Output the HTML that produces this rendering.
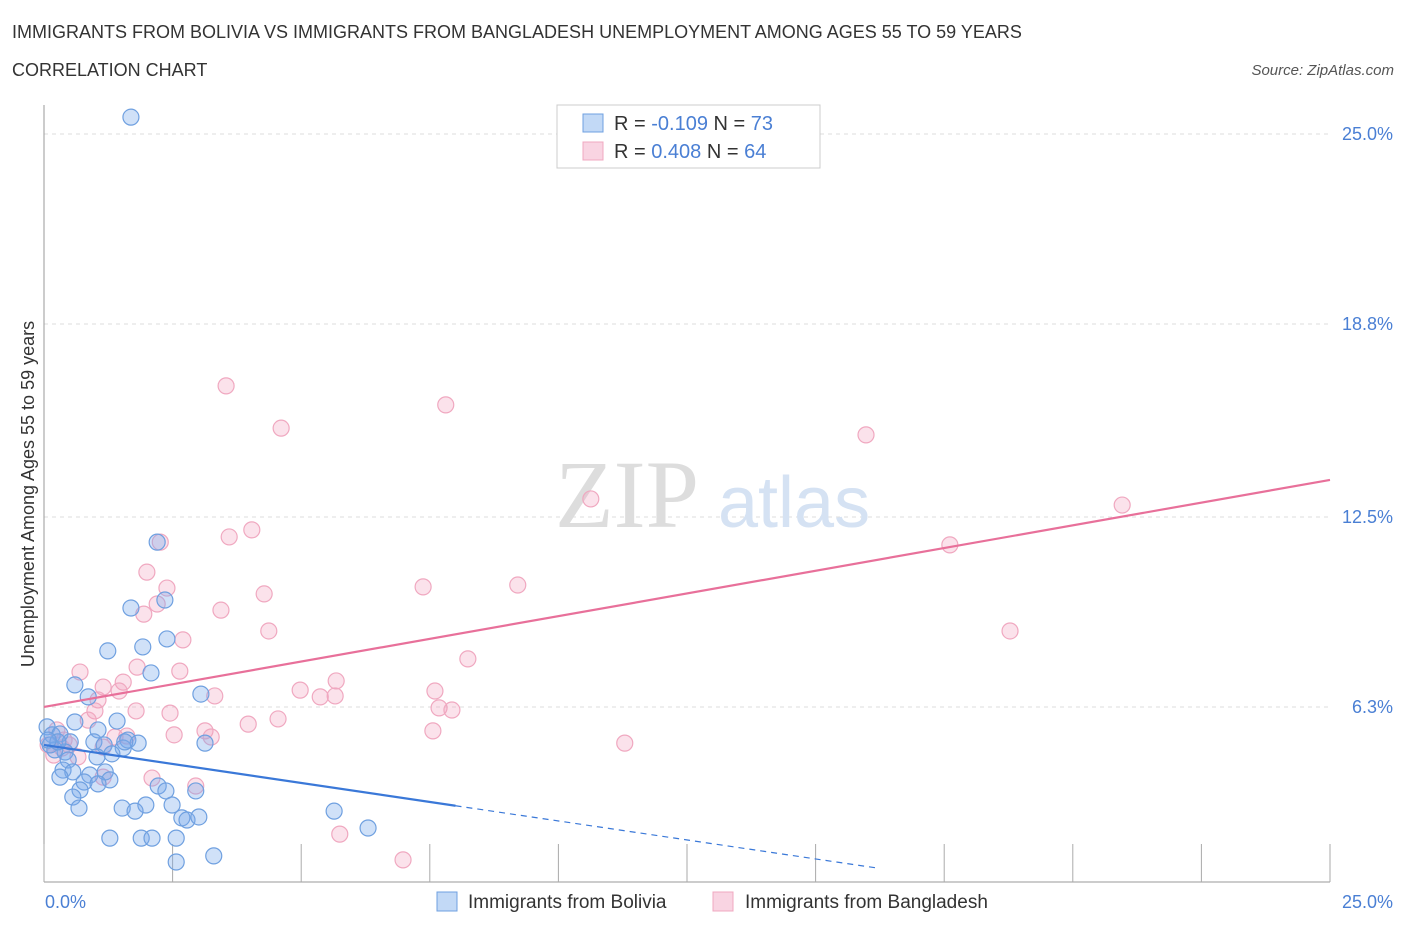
<!DOCTYPE html>
<html><head><meta charset="utf-8"><style>
body{margin:0;background:#fff;font-family:"Liberation Sans",sans-serif;}
#wrap{position:relative;width:1406px;height:930px;overflow:hidden;}
.t{position:absolute;white-space:nowrap;}
</style></head><body>
<div id="wrap">
<div class="t" style="left:12px;top:22px;font-size:18px;color:#333;">IMMIGRANTS FROM BOLIVIA VS IMMIGRANTS FROM BANGLADESH UNEMPLOYMENT AMONG AGES 55 TO 59 YEARS</div>
<div class="t" style="left:12px;top:60px;font-size:18px;color:#333;">CORRELATION CHART</div>
<div class="t" style="right:12px;top:62px;font-size:15px;color:#555;font-style:italic;">Source: ZipAtlas.com</div>
<svg id="svg" width="1406" height="930" style="position:absolute;left:0;top:0"></svg>
</div>
<script>
const yTicks=[25.0,18.8,12.5,6.3];
const yTickLabels=["25.0%","18.8%","12.5%","6.3%"];
const xTickLabels=["0.0%","25.0%"];
const boliviaX=[1.69,2.20,1.69,2.35,1.24,1.92,2.39,2.08,0.60,0.86,3.05,1.42,0.60,0.06,0.16,1.05,0.31,0.51,0.97,1.17,1.63,1.83,1.54,1.32,0.41,0.21,0.47,0.12,3.13,0.37,0.56,1.19,0.89,1.28,0.31,0.78,1.05,0.70,2.22,2.37,2.95,0.56,0.68,1.52,1.98,1.77,2.49,2.68,2.78,3.01,5.64,6.30,1.28,1.89,2.10,2.57,3.30,2.57,1.03,1.57,0.27,0.08];
const boliviaY=[25.55,11.68,9.53,9.79,8.13,8.26,8.52,7.41,7.02,6.63,6.72,5.84,5.81,5.65,5.39,5.55,5.42,5.16,5.16,5.06,5.22,5.12,4.96,4.77,4.83,4.90,4.57,5.06,5.12,4.24,4.18,4.18,4.08,3.92,4.01,3.85,3.79,3.59,3.72,3.56,3.56,3.36,3.00,3.00,3.10,2.90,3.10,2.68,2.61,2.71,2.90,2.35,2.02,2.02,2.02,2.02,1.44,1.24,4.67,5.16,5.16,5.22];
const bangX=[3.54,4.61,7.81,15.98,10.63,20.96,17.61,4.04,3.60,2.26,2.00,2.39,7.37,9.21,4.28,2.20,3.44,1.94,4.37,2.70,18.78,8.24,1.81,2.64,0.70,5.68,1.54,1.15,1.46,4.98,5.37,5.66,7.60,3.32,1.05,0.99,1.79,7.68,7.93,2.45,4.55,3.97,0.86,3.13,2.53,3.25,7.56,1.38,1.61,0.25,0.39,0.49,11.29,0.19,1.15,0.66,2.10,2.95,1.15,5.75,6.98,0.08,0.35];
const bangY=[16.78,15.40,16.16,15.18,13.09,12.89,11.59,12.08,11.85,11.68,10.70,10.18,10.22,10.28,9.99,9.66,9.46,9.33,8.78,8.49,8.78,7.87,7.60,7.47,7.44,7.15,7.11,6.95,6.82,6.85,6.63,6.66,6.82,6.66,6.53,6.17,6.17,6.27,6.20,6.10,5.91,5.74,5.87,5.52,5.39,5.32,5.52,5.32,5.35,5.55,5.22,5.06,5.12,4.73,4.99,4.67,3.98,3.72,4.01,2.15,1.31,5.06,4.96];
const blueTrend=[5.06,-0.248];   // intercept, slope
const pinkTrend=[6.30,0.2964];
const blueSolidEnd=8.0, blueDashEnd=16.25;

const X=v=>44+v*51.44, Y=v=>900-v*30.64;
const svg=document.getElementById('svg');const NS='http://www.w3.org/2000/svg';
function mk(tag,attrs,name){const e=document.createElementNS(NS,tag);for(const k in attrs)e.setAttribute(k,attrs[k]);


svg.appendChild(e);return e;}
// gridlines
yTicks.forEach((v,i)=>{mk('line',{x1:44,x2:1330,y1:Y(v),y2:Y(v),stroke:'#ddd','stroke-dasharray':'4,4'},'y-gridline');
const t=mk('text',{x:1393,y:Y(v)+6,'text-anchor':'end','font-size':18,fill:'#4a7fd4','font-family':'Liberation Sans'},'y-tick-label');t.textContent=yTickLabels[i];});
mk('line',{x1:44,x2:44,y1:105,y2:882,stroke:'#999'},'y-axis');
mk('line',{x1:44,x2:1330,y1:882,y2:882,stroke:'#999'},'x-axis');
for(let i=0;i<=10;i++){mk('line',{x1:X(i*2.5),x2:X(i*2.5),y1:882,y2:i%1==0?844:882,stroke:'#aaa'},'x-tick');}
let t=mk('text',{x:45,y:908,'font-size':18,fill:'#4a7fd4','font-family':'Liberation Sans'},'x-tick-label');t.textContent=xTickLabels[0];
t=mk('text',{x:1393,y:908,'text-anchor':'end','font-size':18,fill:'#4a7fd4','font-family':'Liberation Sans'},'x-tick-label');t.textContent=xTickLabels[1];
t=mk('text',{x:34,y:494,'text-anchor':'middle','font-size':18,fill:'#333','font-family':'Liberation Sans',transform:'rotate(-90 34 494)'},'y-axis-title');t.textContent='Unemployment Among Ages 55 to 59 years';
// watermark
t=mk('text',{x:555,y:527,'font-size':96,fill:'#ddd','font-family':'Liberation Serif'},'watermark-zip');t.textContent='ZIP';
t=mk('text',{x:718,y:527,'font-size':72,fill:'#d5e2f3','font-family':'Liberation Sans'},'watermark-atlas');t.textContent='atlas';
// points
bangX.forEach((x,i)=>mk('circle',{cx:X(x),cy:Y(bangY[i]),r:8,fill:'rgba(242,160,190,0.3)',stroke:'#f0a8c0','stroke-width':1.2},'bangladesh-point'));
boliviaX.forEach((x,i)=>mk('circle',{cx:X(x),cy:Y(boliviaY[i]),r:8,fill:'rgba(120,170,235,0.35)',stroke:'#6fa0e0','stroke-width':1.2},'bolivia-point'));
// trends
const bl=x=>blueTrend[0]+blueTrend[1]*x, pl=x=>pinkTrend[0]+pinkTrend[1]*x;
mk('line',{x1:X(0),y1:Y(bl(0)),x2:X(blueSolidEnd),y2:Y(bl(blueSolidEnd)),stroke:'#3a78d8','stroke-width':2.2},'bolivia-trend-line');
mk('line',{x1:X(blueSolidEnd),y1:Y(bl(blueSolidEnd)),x2:X(blueDashEnd),y2:Y(bl(blueDashEnd)),stroke:'#3a78d8','stroke-width':1.2,'stroke-dasharray':'6,5'},'bolivia-trend-extension');
mk('line',{x1:X(0),y1:Y(pl(0)),x2:X(25),y2:Y(pl(25)),stroke:'#e8709a','stroke-width':2.2},'bangladesh-trend-line');
// top legend
mk('rect',{x:557,y:105,width:263,height:63,fill:'#fff',stroke:'#ccc'},'stats-legend');
mk('rect',{x:583,y:114,width:20,height:18,fill:'rgba(120,170,235,0.45)',stroke:'#6fa0e0'},'bolivia-swatch');
mk('rect',{x:583,y:142,width:20,height:18,fill:'rgba(242,160,190,0.45)',stroke:'#f0a8c0'},'bangladesh-swatch');
function rt(x,y,parts,name){const e=mk('text',{x:x,y:y,'font-size':20,'font-family':'Liberation Sans'},name);parts.forEach(p=>{const s=document.createElementNS(NS,'tspan');s.setAttribute('fill',p[1]);s.textContent=p[0];e.appendChild(s);});}
rt(614,130,[['R = ','#333'],['-0.109','#4a7fd4'],['    N = ','#333'],['73','#4a7fd4']],'bolivia-stats');
rt(614,158,[['R =  ','#333'],['0.408','#4a7fd4'],['    N = ','#333'],['64','#4a7fd4']],'bangladesh-stats');
// bottom legend
mk('rect',{x:437,y:892,width:20,height:19,fill:'rgba(120,170,235,0.45)',stroke:'#6fa0e0'},'legend-bolivia-swatch');
t=mk('text',{x:468,y:908,'font-size':19,fill:'#333','font-family':'Liberation Sans'},'legend-bolivia');t.textContent='Immigrants from Bolivia';
mk('rect',{x:713,y:892,width:20,height:19,fill:'rgba(242,160,190,0.45)',stroke:'#f0a8c0'},'legend-bangladesh-swatch');
t=mk('text',{x:745,y:908,'font-size':19,fill:'#333','font-family':'Liberation Sans'},'legend-bangladesh');t.textContent='Immigrants from Bangladesh';
</script>
</body></html>
